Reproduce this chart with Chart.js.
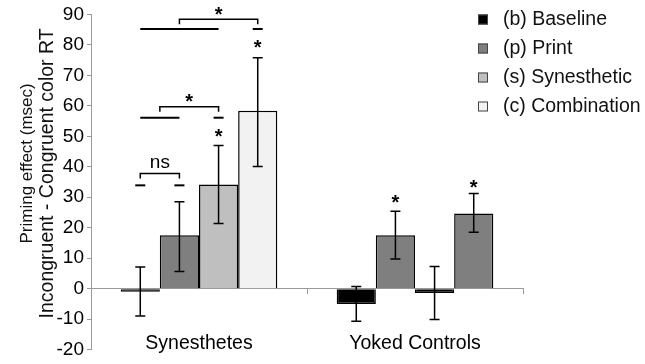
<!DOCTYPE html>
<html><head><meta charset="utf-8">
<script src="https://cdn.jsdelivr.net/npm/chart.js@4.4.1/dist/chart.umd.min.js"></script>
<style>html,body{margin:0;padding:0;background:#fff}#wrap{width:645px;height:364px;position:relative}</style>
</head><body><div id="wrap"><canvas id="c" width="645" height="364"></canvas></div>
<script>
// ---- data ----
const groups = ['Synesthetes', 'Yoked Controls'];
const seriesLabels = ['(b) Baseline', '(p) Print', '(s) Synesthetic', '(c) Combination'];
const baseline    = [-1.0, -5.0];
const print       = [17.5, 17.5];
const synesthetic = [34.2, -1.4];
const combination = [58.4, 24.7];
const baselineLow = [-9.0, -10.7], baselineHigh = [7.1, 0.7];
const printLow    = [5.6, 9.7],    printHigh    = [28.5, 25.4];
const synLow      = [21.4, -10.1], synHigh      = [47.0, 7.3];
const combLow     = [40.1, 18.5],  combHigh     = [75.8, 31.2];
const yMin = -20, yMax = 90, yStep = 10;
const yTitle1 = 'Priming effect (msec)';
const yTitle2 = 'Incongruent - Congruent color RT';
// significance marks (group index, dataset position, value)
const dashes = [ {g:0, at:0, y:33.9}, {g:0, at:1, y:33.9}, {g:0, at:2, y:56.1}, {g:0, at:3, y:85.2} ];
const spanLines = [ {g:0, from:0, to:1, y:56.1}, {g:0, from:0, to:2, y:85.2} ];
const brackets = [
  {g:0, from:0,   to:1, y:37.8, text:'ns', textY:41.2},
  {g:0, from:0.5, to:2, y:59.7, text:'*',  textY:63.0},
  {g:0, from:1,   to:3, y:88.4, text:'*',  textY:91.5}
];
const stars = [ {g:0, at:2, y:51.5}, {g:0, at:3, y:80.6}, {g:1, at:1, y:29.7}, {g:1, at:3, y:34.9} ];

// ---- styles ----
const FONT = "'Liberation Sans', Arial, sans-serif";
const BLACK = '#000000', DARK = '#7f7f7f', MID = '#bfbfbf', LIGHT = '#f2f2f2';
const legendColors = [BLACK, DARK, MID, LIGHT];

const datasets = [
  {label: seriesLabels[0], data: baseline,    low: baselineLow, high: baselineHigh, backgroundColor: [BLACK, BLACK]},
  {label: seriesLabels[1], data: print,       low: printLow,    high: printHigh,    backgroundColor: [DARK, DARK]},
  {label: seriesLabels[2], data: synesthetic, low: synLow,      high: synHigh,      backgroundColor: [MID, BLACK]},
  {label: seriesLabels[3], data: combination, low: combLow,     high: combHigh,     backgroundColor: [LIGHT, DARK]}
].map(d => Object.assign(d, {borderColor: '#000', borderWidth: 1.5}));

function barX(chart, g, pos) {
  const a = Math.floor(pos), b = Math.ceil(pos);
  const xa = chart.getDatasetMeta(a).data[g].x, xb = chart.getDatasetMeta(b).data[g].x;
  return xa + (xb - xa) * (pos - a);
}

const marksPlugin = {
  id: 'marks',
  afterDatasetsDraw(chart) {
    const ctx = chart.ctx, ys = chart.scales.y;
    ctx.save();
    // error bars
    ctx.strokeStyle = '#000'; ctx.lineWidth = 1.5;
    chart.data.datasets.forEach((ds, i) => {
      chart.getDatasetMeta(i).data.forEach((el, j) => {
        const x = el.x, y1 = ys.getPixelForValue(ds.low[j]), y2 = ys.getPixelForValue(ds.high[j]);
        ctx.beginPath();
        ctx.moveTo(x, y1); ctx.lineTo(x, y2);
        ctx.moveTo(x - 5, y1); ctx.lineTo(x + 5, y1);
        ctx.moveTo(x - 5, y2); ctx.lineTo(x + 5, y2);
        ctx.stroke();
      });
    });
    // dashes and span lines
    ctx.lineWidth = 2;
    dashes.forEach(d => {
      const x = barX(chart, d.g, d.at), y = ys.getPixelForValue(d.y);
      ctx.beginPath(); ctx.moveTo(x - 5, y); ctx.lineTo(x + 5, y); ctx.stroke();
    });
    spanLines.forEach(l => {
      const y = ys.getPixelForValue(l.y);
      ctx.beginPath(); ctx.moveTo(barX(chart, l.g, l.from), y); ctx.lineTo(barX(chart, l.g, l.to), y); ctx.stroke();
    });
    // brackets
    ctx.lineWidth = 1.5;
    ctx.fillStyle = '#000';
    ctx.textAlign = 'center';
    brackets.forEach(b => {
      const x1 = barX(chart, b.g, b.from), x2 = barX(chart, b.g, b.to), y = ys.getPixelForValue(b.y);
      ctx.beginPath();
      ctx.moveTo(x1, y + 5); ctx.lineTo(x1, y); ctx.lineTo(x2, y); ctx.lineTo(x2, y + 5);
      ctx.stroke();
      const ty = ys.getPixelForValue(b.textY), xm = (x1 + x2) / 2;
      if (b.text === '*') {
        ctx.font = 'bold 20px ' + FONT; ctx.textBaseline = 'alphabetic';
        ctx.fillText('*', xm, ty + 0.56 * 20);
      } else {
        ctx.font = '19px ' + FONT; ctx.textBaseline = 'alphabetic';
        ctx.fillText(b.text, xm, ty + 0.26 * 19);
      }
    });
    ctx.font = 'bold 20px ' + FONT; ctx.textBaseline = 'alphabetic';
    stars.forEach(s => {
      ctx.fillText('*', barX(chart, s.g, s.at), ys.getPixelForValue(s.y) + 0.56 * 20);
    });
    ctx.restore();
  },
  afterDraw(chart) {
    const ctx = chart.ctx, ca = chart.chartArea;
    ctx.save();
    // legend
    ctx.font = '19.5px ' + FONT; ctx.textAlign = 'left'; ctx.textBaseline = 'middle';
    const lx = chart.width - 167;
    chart.data.datasets.forEach((ds, i) => {
      const y = 19.5 + i * 29;
      ctx.fillStyle = legendColors[i];
      ctx.fillRect(lx, y - 5, 10, 10);
      ctx.strokeStyle = '#444'; ctx.lineWidth = 1;
      ctx.strokeRect(lx + 0.5, y - 4.5, 9, 9);
      ctx.fillStyle = '#111';
      ctx.fillText(ds.label, lx + 25, y);
    });
    // y axis title
    const ysc = chart.scales.y;
    ctx.textAlign = 'center'; ctx.textBaseline = 'middle'; ctx.fillStyle = '#111';
    [[yTitle1, 17, 27, 149], [yTitle2, 19.5, 48, 159]].forEach(([t, size, dx, dy]) => {
      ctx.save();
      ctx.translate(ysc.left + dx, ca.top + dy);
      ctx.rotate(-Math.PI / 2);
      ctx.font = size + 'px ' + FONT;
      ctx.fillText(t, 0, 0);
      ctx.restore();
    });
    ctx.restore();
  }
};

new Chart(document.getElementById('c'), {
  type: 'bar',
  data: {labels: groups, datasets},
  options: {
    responsive: false,
    animation: false,
    devicePixelRatio: 1,
    layout: {padding: {left: 0, right: 122, top: 13, bottom: 14}},
    datasets: {bar: {categoryPercentage: 0.725, barPercentage: 1}},
    plugins: {legend: {display: false}, tooltip: {enabled: false}},
    scales: {
      x: {
        position: {y: 0},
        offset: true,
        grid: {display: true, drawOnChartArea: false, drawTicks: true, tickLength: 5, color: '#999', offset: true},
        border: {display: true, color: '#999', width: 1},
        ticks: {font: {family: FONT, size: 19.5}, color: '#000', padding: 38},
        afterFit: s => { s.height = 0; }
      },
      y: {
        min: yMin, max: yMax,
        ticks: {stepSize: yStep, font: {family: FONT, size: 19}, color: '#000', padding: 3},
        grid: {display: true, drawOnChartArea: false, drawTicks: true, tickLength: 4, color: '#999'},
        border: {display: true, color: '#999', width: 1},
        afterFit: s => { s.width = 91; }
      }
    }
  },
  plugins: [marksPlugin]
});
</script>
</body></html>
